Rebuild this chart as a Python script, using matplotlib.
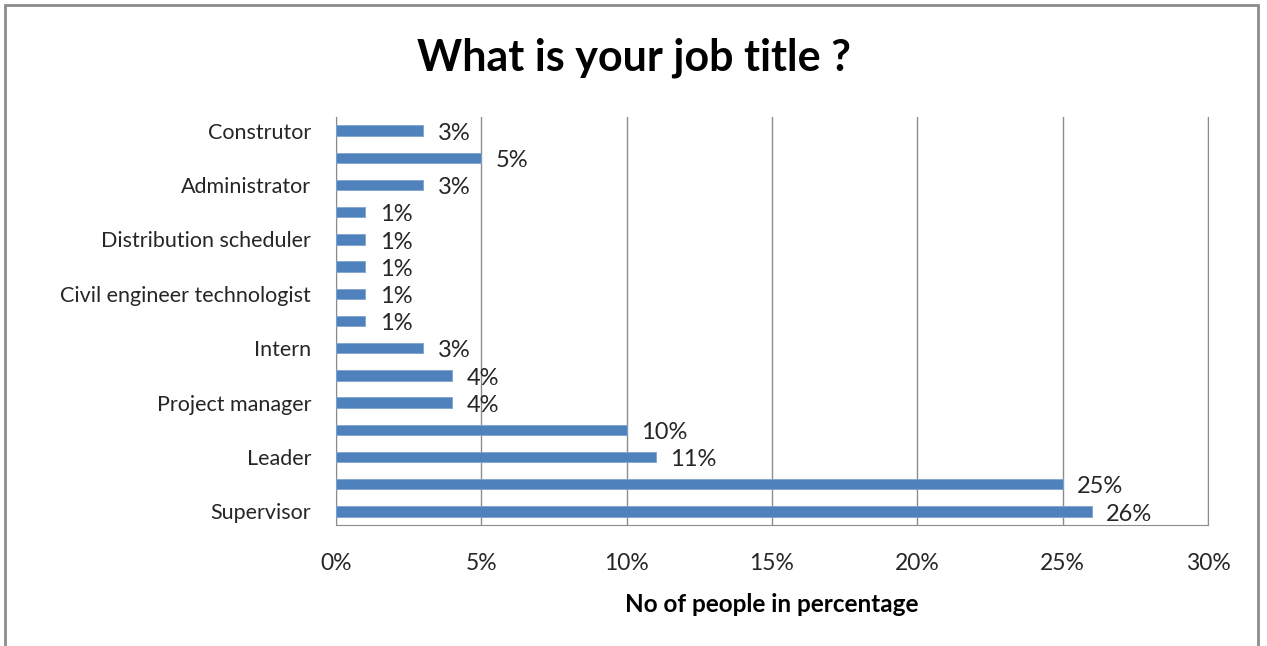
import matplotlib.pyplot as plt
from matplotlib.patches import Rectangle

# Survey answers, listed from top to bottom of the chart
job_titles = ["Construtor", "", "Administrator", "", "Distribution scheduler", "",
              "Civil engineer technologist", "", "Intern", "", "Project manager", "",
              "Leader", "", "Supervisor"]
shares = [3, 5, 3, 1, 1, 1, 1, 1, 3, 4, 4, 10, 11, 25, 26]
x_ticks = [0, 5, 10, 15, 20, 25, 30]

plt.rcParams['font.family'] = ['Lato', 'DejaVu Sans']

fig = plt.figure(figsize=(12.67, 6.46), dpi=100)
ax = fig.add_axes([0.2652, 0.1873, 0.6882, 0.6316])

# outer chart frame
fig.patches.append(Rectangle((0.004, -0.05), 0.989, 1.042, transform=fig.transFigure,
                             fill=False, edgecolor='#8c8c8c', linewidth=2))

pos = list(range(len(shares)))
ax.barh(pos, shares, height=0.38, color='#4f81bd', edgecolor='#7fa3d0', linewidth=0.6, zorder=3)
for y, v in zip(pos, shares):
    ax.text(v + 0.5, y + 0.1, f"{v}%", va='center', ha='left', fontsize=17, color='#262626')

ax.set_ylim(len(shares) - 0.5, -0.5)
ax.set_xlim(0, 30)
ax.set_yticks(pos)
ax.set_yticklabels(job_titles, fontsize=15.5, color='#262626')
ax.set_xticks(x_ticks)
ax.set_xticklabels([f"{t}%" for t in x_ticks], fontsize=16.5, color='#262626')
ax.tick_params(axis='both', length=0)
ax.tick_params(axis='x', pad=20)
ax.tick_params(axis='y', pad=18)

ax.grid(axis='x', color='#8c8c8c', linewidth=1, zorder=0)
ax.spines['top'].set_visible(False)
for side in ['right', 'left', 'bottom']:
    ax.spines[side].set_color('#8c8c8c')

ax.set_xlabel("No of people in percentage", fontsize=17.5, fontweight='bold', labelpad=14)
fig.text(0.5, 0.91, "What is your job title ?", ha='center', va='center',
         fontsize=31, fontweight='bold')

fig.savefig("out.png", dpi=100, facecolor='white')
